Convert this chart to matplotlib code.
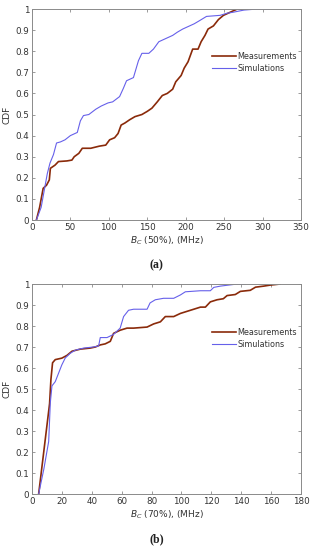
import matplotlib
matplotlib.use("Agg")
import matplotlib.pyplot as plt

# ---- Data (a): B_C (50%) ----
a_meas_x = [5.8, 10, 14.6, 19, 22.6, 24, 30, 34.5, 45.6, 52, 55, 61, 65.5, 76.5, 87.6, 96, 101, 107.5,
            112, 116, 121, 127, 134, 143, 150, 156, 163, 169.5, 176, 183, 187, 194, 198, 203, 207,
            209, 216, 220, 225, 229, 236, 242.5, 249, 258, 267, 280]
a_meas_y = [0, 0.06, 0.15, 0.165, 0.19, 0.245, 0.26, 0.277, 0.28, 0.284, 0.3, 0.316, 0.34, 0.34, 0.35,
            0.355, 0.38, 0.39, 0.41, 0.45, 0.46, 0.475, 0.49, 0.5, 0.515, 0.53, 0.56, 0.59, 0.6, 0.62,
            0.655, 0.685, 0.72, 0.75, 0.79, 0.81, 0.81, 0.845, 0.875, 0.905, 0.92, 0.95, 0.97, 0.985,
            1.0, 1.0]
a_sim_x = [5.8, 12, 17, 20, 23.5, 28, 32, 37, 43, 50, 59, 63, 67, 74, 83, 90, 99, 105, 114, 119, 123,
           132, 138.5, 143, 152, 158, 165, 174, 183, 189, 196, 205, 211, 218, 227, 244.7, 253.5, 262,
           275.7, 293, 309]
a_sim_y = [0, 0.06, 0.16, 0.22, 0.27, 0.31, 0.365, 0.37, 0.38, 0.4, 0.415, 0.47, 0.495, 0.5, 0.525,
           0.54, 0.555, 0.56, 0.585, 0.625, 0.66, 0.675, 0.755, 0.79, 0.79, 0.81, 0.845, 0.86, 0.875,
           0.89, 0.905, 0.92, 0.93, 0.945, 0.965, 0.97, 0.98, 0.985, 0.995, 1.0, 1.0]

# ---- Data (b): B_C (70%) ----
b_meas_x = [4.5, 11.8, 12.7, 13.8, 15.6, 20, 23.4, 26.8, 32.4, 39, 42.4, 45.7, 49, 52.4, 54.6, 59,
            63.6, 68, 77, 81.4, 85.9, 89.2, 94.8, 99.3, 106, 112.7, 116, 119.3, 123.8, 128, 130.5,
            136, 139.4, 146, 149.5, 155, 159.5, 166]
b_meas_y = [0, 0.43, 0.545, 0.625, 0.64, 0.647, 0.66, 0.68, 0.69, 0.695, 0.7, 0.71, 0.715, 0.727,
            0.765, 0.78, 0.79, 0.79, 0.795, 0.81, 0.82, 0.845, 0.845, 0.86, 0.875, 0.89, 0.89, 0.915,
            0.925, 0.93, 0.945, 0.95, 0.965, 0.97, 0.985, 0.99, 0.995, 1.0]
b_sim_x = [4.5, 8, 11.2, 12.3, 13.4, 15.6, 17.8, 20, 22.3, 25.6, 29, 34.6, 41, 44.6, 45.7, 50.2, 54.6,
           59, 61.3, 64.6, 68, 77, 79, 82.5, 88, 94.8, 99.3, 102.6, 112.7, 119.3, 121.6, 126, 135,
           142.7]
b_sim_y = [0, 0.12, 0.25, 0.435, 0.515, 0.535, 0.575, 0.615, 0.648, 0.67, 0.685, 0.695, 0.7, 0.705,
           0.745, 0.745, 0.76, 0.79, 0.845, 0.875, 0.88, 0.88, 0.91, 0.925, 0.932, 0.932, 0.948,
           0.963, 0.968, 0.968, 0.984, 0.99, 0.998, 1.0]

a_xticks = [0, 50, 100, 150, 200, 250, 300, 350]
b_xticks = [0, 20, 40, 60, 80, 100, 120, 140, 160, 180]
yticks = [0, 0.1, 0.2, 0.3, 0.4, 0.5, 0.6, 0.7, 0.8, 0.9, 1.0]
ytick_labels = ["0", "0.1", "0.2", "0.3", "0.4", "0.5", "0.6", "0.7", "0.8", "0.9", "1"]

MEAS_C = "#8a2a0a"
SIM_C = "#6660ea"
AX_C = "#8a8a8a"
TXT_C = "#333333"

fig = plt.figure(figsize=(3.13, 5.5), dpi=100)
ax1 = fig.add_axes([0.102, 0.600, 0.860, 0.3836])
ax2 = fig.add_axes([0.102, 0.1018, 0.860, 0.3818])


def style(ax, xmax, xticks, xlabel, legy):
    ax.set_xlim(0, xmax)
    ax.set_ylim(0, 1)
    ax.set_xticks(xticks)
    ax.set_xticklabels([str(t) for t in xticks])
    ax.set_yticks(yticks)
    ax.set_yticklabels(ytick_labels)
    ax.tick_params(direction="in", length=2.5, width=0.6, labelsize=6.3, colors=AX_C,
                   labelcolor=TXT_C, top=True, right=True, pad=2)
    for s in ax.spines.values():
        s.set_color(AX_C)
        s.set_linewidth(0.7)
    ax.set_ylabel("CDF", fontsize=6.5, color=TXT_C, labelpad=3)
    ax.set_xlabel(xlabel, fontsize=6.5, color=TXT_C, labelpad=2)
    leg = ax.legend(loc="center left", bbox_to_anchor=(0.668, legy), frameon=False,
                    fontsize=5.8, handlelength=3.0, handletextpad=0.15, labelspacing=0.35,
                    borderpad=0, borderaxespad=0)
    for t in leg.get_texts():
        t.set_color(TXT_C)


ax1.plot(a_meas_x, a_meas_y, color=MEAS_C, lw=1.2, label="Measurements")
ax1.plot(a_sim_x, a_sim_y, color=SIM_C, lw=0.8, label="Simulations")
style(ax1, 350, a_xticks, r"$B_C$ (50%), (MHz)", 0.746)

ax2.plot(b_meas_x, b_meas_y, color=MEAS_C, lw=1.2, label="Measurements")
ax2.plot(b_sim_x, b_sim_y, color=SIM_C, lw=0.8, label="Simulations")
style(ax2, 180, b_xticks, r"$B_C$ (70%), (MHz)", 0.740)

fig.text(0.5, 1 - 265 / 550, "(a)", ha="center", va="center", fontsize=8.5,
         fontweight="bold", family="Liberation Serif", color="#222222")
fig.text(0.5, 1 - 539 / 550, "(b)", ha="center", va="center", fontsize=8.5,
         fontweight="bold", family="Liberation Serif", color="#222222")

fig.savefig("out.png", dpi=100)
